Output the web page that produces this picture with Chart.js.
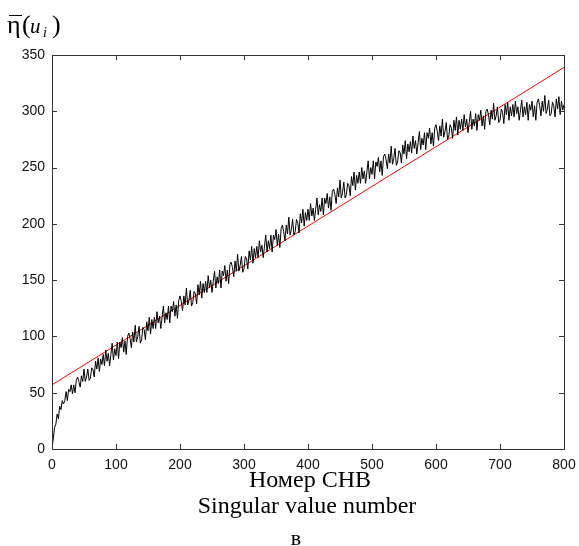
<!DOCTYPE html>
<html>
<head>
<meta charset="utf-8">
<script src="https://cdn.jsdelivr.net/npm/chart.js@4"></script>
<style>
  html, body { margin: 0; padding: 0; background: #fff; }
  #wrap { width: 579px; height: 546px; position: relative; }
</style>
</head>
<body>
<div id="wrap"><canvas id="svChart" width="579" height="546"></canvas></div>
<script>
// singular value number, step 2 from 0 to 800
var svStep = 2;
var svValues = [
  1, 9, 19, 22, 31, 27, 38, 35, 43, 40,
  43, 51, 43, 53, 51, 57, 49, 57, 50, 61,
  64, 60, 55, 65, 60, 71, 60, 64, 71, 61,
  63, 72, 71, 64, 78, 71, 81, 69, 80, 75,
  84, 74, 88, 78, 85, 74, 84, 94, 79, 89,
  83, 95, 80, 95, 90, 99, 86, 96, 84, 100,
  103, 98, 90, 104, 95, 110, 95, 100, 109, 94,
  97, 108, 106, 97, 113, 105, 117, 102, 115, 107,
  117, 107, 122, 112, 118, 107, 117, 127, 112, 121,
  115, 127, 112, 127, 122, 131, 118, 128, 116, 132,
  136, 131, 123, 136, 128, 143, 128, 132, 141, 127,
  130, 140, 138, 129, 146, 137, 149, 134, 147, 139,
  149, 139, 154, 143, 150, 139, 149, 158, 143, 153,
  147, 159, 143, 158, 154, 163, 149, 159, 147, 164,
  166, 161, 153, 167, 158, 173, 158, 163, 171, 157,
  160, 171, 169, 160, 176, 168, 180, 165, 178, 170,
  180, 170, 185, 175, 181, 170, 180, 190, 175, 185,
  178, 190, 175, 190, 186, 195, 181, 191, 179, 196,
  199, 193, 185, 199, 191, 206, 190, 195, 204, 190,
  193, 204, 201, 192, 209, 201, 213, 198, 210, 203,
  213, 203, 218, 207, 214, 203, 213, 223, 208, 217,
  211, 223, 208, 223, 218, 227, 214, 224, 212, 229,
  231, 226, 218, 232, 224, 239, 223, 228, 237, 223,
  226, 236, 234, 225, 242, 234, 246, 230, 243, 236,
  246, 236, 250, 240, 247, 236, 246, 256, 240, 250,
  244, 256, 240, 255, 251, 259, 246, 256, 243, 260,
  262, 257, 249, 262, 254, 269, 253, 258, 267, 252,
  255, 265, 263, 254, 270, 262, 274, 258, 271, 264,
  273, 263, 278, 267, 274, 262, 272, 282, 266, 276,
  270, 281, 266, 281, 276, 285, 271, 281, 269, 285,
  288, 282, 274, 287, 278, 293, 277, 282, 290, 275,
  278, 288, 285, 276, 292, 283, 295, 279, 292, 284,
  293, 283, 297, 286, 293, 281, 290, 300, 284, 293,
  287, 298, 283, 297, 292, 301, 287, 296, 284, 300,
  302, 297, 288, 301, 293, 307, 292, 296, 304, 290,
  292, 302, 299, 289, 306, 297, 308, 292, 304, 296,
  306, 295, 309, 298, 304, 292, 301, 310, 295, 304,
  297, 308, 292, 306, 301, 309, 295, 305, 292, 308,
  311, 305, 296, 309, 300, 314, 298, 302, 310, 296,
  298, 308, 305, 295, 311, 302, 313, 297, 309, 301,
  306
];
// red fitted line (end points)
var fitX = [0, 800];
var fitY = [57, 339];
var xTicks = [0, 100, 200, 300, 400, 500, 600, 700, 800];
var yTicks = [0, 50, 100, 150, 200, 250, 300, 350];

var svPoints = svValues.map(function (v, i) { return { x: i * svStep, y: v }; });
var fitPoints = fitX.map(function (x, i) { return { x: x, y: fitY[i] }; });

var boxPlugin = {
  id: 'matlabBox',
  afterDraw: function (chart) {
    var ctx = chart.ctx;
    var a = chart.chartArea;
    var xs = chart.scales.x, ys = chart.scales.y;
    ctx.save();
    ctx.strokeStyle = '#333';
    ctx.lineWidth = 1;
    ctx.strokeRect(Math.round(a.left) + 0.5, Math.round(a.top) + 0.5,
      Math.round(a.right - a.left), Math.round(a.bottom - a.top));
    ctx.beginPath();
    xTicks.forEach(function (t) {
      var px = Math.round(xs.getPixelForValue(t)) + 0.5;
      ctx.moveTo(px, a.bottom); ctx.lineTo(px, a.bottom - 5);
      ctx.moveTo(px, a.top); ctx.lineTo(px, a.top + 5);
    });
    yTicks.forEach(function (t) {
      var py = Math.round(ys.getPixelForValue(t)) + 0.5;
      ctx.moveTo(a.left, py); ctx.lineTo(a.left + 5, py);
      ctx.moveTo(a.right, py); ctx.lineTo(a.right - 5, py);
    });
    ctx.stroke();

    // y label: eta bar (u_i)
    ctx.fillStyle = '#000';
    ctx.textBaseline = 'alphabetic';
    ctx.font = '26px "Liberation Serif", "Times New Roman", serif';
    ctx.fillText('\u03b7', 7, 33);
    ctx.fillRect(9, 15, 13, 1);
    ctx.font = '26px "Liberation Serif", serif';
    ctx.fillText('(', 22, 33);
    ctx.font = 'italic 21px "Liberation Serif", serif';
    ctx.fillText('u', 30, 33);
    ctx.font = 'italic 14px "Liberation Serif", serif';
    ctx.fillText('i', 43, 37);
    ctx.font = '26px "Liberation Serif", serif';
    ctx.fillText(')', 52, 33);

    // axis titles
    ctx.textAlign = 'center';
    ctx.font = '24px "Liberation Serif", "Times New Roman", serif';
    ctx.fillText('Номер СНВ', 310, 487);
    ctx.fillText('Singular value number', 307, 513);
    ctx.font = '22px "Liberation Serif", serif';
    ctx.fillText('в', 296, 545);
    ctx.restore();
  }
};

var chart = new Chart(document.getElementById('svChart'), {
  type: 'line',
  data: {
    datasets: [
      {
        label: 'eta',
        data: svPoints,
        borderColor: '#000',
        borderWidth: 1,
        pointRadius: 0,
        tension: 0
      },
      {
        label: 'fit',
        data: fitPoints,
        borderColor: '#ff0000',
        borderWidth: 1,
        pointRadius: 0,
        tension: 0
      }
    ]
  },
  options: {
    responsive: false,
    animation: false,
    events: [],
    layout: { padding: { top: 55, right: 15, left: 0, bottom: 0 } },
    plugins: { legend: { display: false }, tooltip: { enabled: false } },
    scales: {
      x: {
        type: 'linear',
        min: 0, max: 800,
        afterFit: function (s) { s.height = 97; s.paddingLeft = 0; s.paddingRight = 0; },
        afterBuildTicks: function (s) { s.ticks = xTicks.map(function (v) { return { value: v }; }); },
        grid: { display: false, drawTicks: false },
        border: { display: false },
        ticks: { color: '#111', padding: 8, maxRotation: 0, font: { family: '"Liberation Sans", Arial, sans-serif', size: 14 } }
      },
      y: {
        type: 'linear',
        min: 0, max: 350,
        afterFit: function (s) { s.width = 52; s.paddingTop = 0; s.paddingBottom = 0; },
        afterBuildTicks: function (s) { s.ticks = yTicks.map(function (v) { return { value: v }; }); },
        grid: { display: false, drawTicks: false },
        border: { display: false },
        ticks: { color: '#111', padding: 7, font: { family: '"Liberation Sans", Arial, sans-serif', size: 14 } }
      }
    }
  },
  plugins: [boxPlugin]
});
</script>
</body>
</html>
